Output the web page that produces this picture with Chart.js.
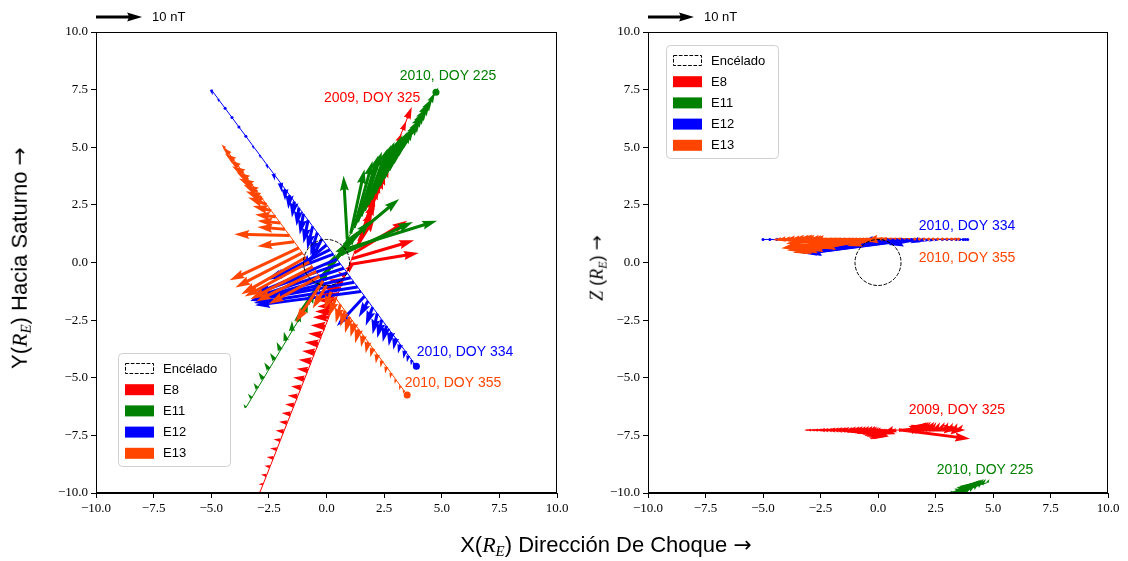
<!DOCTYPE html>
<html lang="es">
<head>
<meta charset="UTF-8">
<title>Campo magnético en los sobrevuelos de Encélado</title>
<script src="https://cdn.jsdelivr.net/npm/chart.js"></script>
<style>
  body { margin: 0; background: #fff; }
  #wrap { position: relative; width: 1128px; height: 561px; overflow: hidden; font-family: "Liberation Sans", sans-serif; color: #000; }
  canvas { position: absolute; top: 0; }
  #xy { left: 0; }
  #xz { left: 564px; }
  .lbl { position: absolute; white-space: nowrap; }
  .m { font-family: "Liberation Serif", serif; font-style: italic; }
  .m sub { font-size: 0.68em; vertical-align: -0.3em; }
  .arr { font-family: "DejaVu Sans", sans-serif; }
</style>
</head>
<body>
<div id="wrap">
  <canvas id="xy" width="580" height="561"></canvas>
  <canvas id="xz" width="564" height="561"></canvas>
  <div class="lbl" id="xlab" style="left:606px; top:546px; font-size:22px; transform:translate(-50%,-50%);">X(<span class="m">R<sub>E</sub></span>) Dirección De Choque <span class="arr">&rarr;</span></div>
  <div class="lbl" id="ylab" style="left:21px; top:258px; font-size:22px; transform:translate(-50%,-50%) rotate(-90deg);">Y(<span class="m">R<sub>E</sub></span>) Hacia Saturno <span class="arr">&rarr;</span></div>
  <div class="lbl" id="zlab" style="left:598px; top:268px; font-size:18px; transform:translate(-50%,-50%) rotate(-90deg);"><span class="m">Z</span> (<span class="m">R<sub>E</sub></span>) <span class="arr">&rarr;</span></div>
</div>

<script>
// R_E per nT: a 10 nT vector is 2 R_E long
const QUIVER_SCALE = 0.2;
const KEY_NT = 10;

// E8 - 2009, DOY 325
const e8X = [-3.05, -2.9, -2.75, -2.6, -2.45, -2.3, -2.15, -2.0, -1.85, -1.7, -1.55, -1.4, -1.25, -1.1, -0.95, -0.8, -0.65, -0.5, -0.35, -0.2, -0.05, 0.1, 0.2, 0.3, 0.4, 0.5, 0.6, 0.7, 0.8, 0.9, 1.0, 1.1, 1.2, 1.3, 1.4, 1.5, 1.6, 1.7, 1.85, 2.0, 2.15, 2.3, 2.5, 2.7, 2.9, 3.1, 3.3, 3.5];
const e8Y = [-10.38, -10.00, -9.62, -9.24, -8.86, -8.48, -8.10, -7.71, -7.33, -6.95, -6.57, -6.19, -5.81, -5.43, -5.05, -4.67, -4.28, -3.90, -3.52, -3.14, -2.76, -2.38, -2.13, -1.87, -1.62, -1.36, -1.11, -0.85, -0.60, -0.35, -0.09, 0.16, 0.41, 0.67, 0.92, 1.18, 1.43, 1.68, 2.07, 2.45, 2.83, 3.21, 3.72, 4.22, 4.73, 5.24, 5.74, 6.25];
const e8Z = [-7.27, -7.27, -7.27, -7.27, -7.27, -7.27, -7.27, -7.27, -7.27, -7.27, -7.27, -7.27, -7.27, -7.27, -7.27, -7.27, -7.27, -7.27, -7.27, -7.27, -7.27, -7.27, -7.27, -7.27, -7.27, -7.27, -7.27, -7.27, -7.27, -7.27, -7.27, -7.27, -7.27, -7.27, -7.27, -7.27, -7.27, -7.27, -7.27, -7.27, -7.27, -7.27, -7.27, -7.27, -7.27, -7.27, -7.27, -7.27];
const e8Bx = [-0.8, -1.0, -1.0, -1.2, -1.2, -1.5, -1.5, -1.5, -1.8, -1.8, -2.0, -2.0, -2.2, -2.2, -2.5, -2.5, -2.8, -2.8, -3.0, -3.0, -3.2, -3.5, -3.5, -3.5, -3.8, -4.0, -4.0, -3.0, -1.5, 1.5, 15.0, 13.5, 11.5, 4.0, 3.0, 3.0, 2.5, 2.0, 1.8, 1.5, 1.5, 1.2, 1.0, 1.0, 0.8, 0.8, 0.8, 1.0];
const e8By = [0.0, 0.0, 0.0, 0.2, 0.2, 0.2, 0.2, 0.2, 0.2, 0.2, 0.2, 0.2, 0.2, 0.3, 0.3, 0.3, 0.3, 0.3, 0.3, 0.3, 0.2, 0.0, 0.0, -0.2, -0.2, -0.3, 0.0, 0.5, 1.0, 1.5, 2.5, 4.0, 7.0, 6.5, 7.0, 7.5, 7.5, 7.0, 6.5, 6.0, 5.0, 4.0, 3.0, 2.5, 2.0, 1.8, 2.0, 2.5];
const e8Bz = [0.0, 0.0, 0.0, 0.0, 0.0, 0.0, 0.0, 0.0, 0.0, 0.0, 0.0, 0.0, 0.0, -0.3, -0.3, -0.3, -0.3, -0.6, -0.8, -0.8, -1.0, -1.3, -1.5, -1.7, -2.0, -2.0, -2.0, -1.0, -0.5, 0.0, -1.9, 0.0, 0.3, 1.0, 1.2, 1.5, 1.6, 1.7, 1.8, 1.8, 1.8, 1.7, 1.7, 1.7, 1.7, 1.6, 1.5, 1.2];

// E11 - 2010, DOY 225
const e11X = [-3.5, -3.25, -3.0, -2.75, -2.5, -2.25, -2.0, -1.75, -1.5, -1.25, -1.0, -0.8, -0.6, -0.4, -0.2, 0.0, 0.15, 0.3, 0.45, 0.6, 0.75, 0.9, 1.05, 1.2, 1.35, 1.5, 1.65, 1.8, 1.95, 2.1, 2.3, 2.5, 2.7, 2.9, 3.1, 3.3, 3.5, 3.7, 3.9, 4.1, 4.3, 4.5, 4.75];
const e11Y = [-6.30, -5.89, -5.47, -5.06, -4.64, -4.23, -3.81, -3.40, -2.98, -2.57, -2.15, -1.82, -1.49, -1.16, -0.83, -0.49, -0.24, 0.01, 0.26, 0.51, 0.76, 1.00, 1.25, 1.50, 1.75, 2.00, 2.25, 2.50, 2.74, 2.99, 3.32, 3.66, 3.99, 4.32, 4.65, 4.98, 5.31, 5.64, 5.98, 6.31, 6.64, 6.97, 7.39];
const e11Z = [-12.03, -11.95, -11.88, -11.80, -11.73, -11.65, -11.58, -11.50, -11.43, -11.35, -11.28, -11.22, -11.16, -11.10, -11.04, -10.98, -10.93, -10.89, -10.84, -10.80, -10.75, -10.71, -10.66, -10.62, -10.57, -10.53, -10.48, -10.44, -10.39, -10.35, -10.29, -10.23, -10.17, -10.11, -10.05, -9.99, -9.93, -9.87, -9.81, -9.75, -9.69, -9.63, -9.55];
const e11Bx = [-0.5, -0.8, -0.8, -1.0, -1.0, -1.0, -0.8, -0.5, 0.0, 0.5, 1.0, 1.5, 2.0, 2.5, 3.0, 4.5, 6.0, 8.0, 16.5, 21.0, 12.0, -0.8, 3.0, 4.0, 4.5, 4.5, 5.0, 5.0, 5.0, 5.0, 5.0, 5.0, 5.0, 4.5, 4.5, 4.0, 3.5, 3.0, 2.5, 2.0, 1.5, 1.0, 0.5];
const e11By = [0.8, 1.0, 1.2, 1.5, 1.5, 1.5, 1.8, 2.0, 2.2, 2.5, 3.0, 3.5, 4.5, 5.0, 6.0, 7.0, 8.0, 9.0, 7.5, 6.5, 10.0, 13.8, 14.0, 14.5, 14.5, 14.0, 13.5, 13.0, 12.5, 11.5, 11.0, 10.0, 9.0, 8.0, 7.5, 6.5, 6.0, 5.0, 4.0, 3.5, 2.5, 2.0, 1.0];
const e11Bz = [0.3, 0.3, 0.3, 0.3, 0.3, 0.3, 0.3, 0.3, 0.3, 0.3, 0.3, 0.3, 0.3, 0.3, 0.3, 0.3, 0.3, 0.3, 0.3, 0.3, 0.3, 0.3, 0.3, 0.3, 0.3, 0.3, 0.3, 0.3, 0.3, 0.3, 0.3, 0.3, 0.3, 0.3, 1.0, 1.5, 1.8, 1.8, 1.8, 1.7, 1.5, 1.2, 0.8];

// E12 - 2010, DOY 334
const e12X = [-5.0, -4.7, -4.4, -4.1, -3.8, -3.5, -3.2, -2.9, -2.6, -2.3, -2.0, -1.8, -1.6, -1.4, -1.2, -1.0, -0.8, -0.6, -0.4, -0.2, 0.0, 0.15, 0.3, 0.45, 0.6, 0.75, 0.9, 1.05, 1.2, 1.35, 1.5, 1.65, 1.8, 2.0, 2.2, 2.4, 2.6, 2.8, 3.0, 3.2, 3.4, 3.55, 3.7, 3.8, 3.9];
const e12Y = [7.50, 7.10, 6.69, 6.29, 5.88, 5.48, 5.07, 4.67, 4.26, 3.86, 3.46, 3.19, 2.92, 2.65, 2.38, 2.11, 1.84, 1.57, 1.30, 1.03, 0.76, 0.56, 0.36, 0.15, -0.05, -0.25, -0.45, -0.66, -0.86, -1.06, -1.26, -1.46, -1.67, -1.94, -2.21, -2.48, -2.75, -3.02, -3.28, -3.55, -3.82, -4.03, -4.23, -4.36, -4.50];
const e12Z = [1.0, 1.0, 1.0, 1.0, 1.0, 1.0, 1.0, 1.0, 1.0, 1.0, 1.0, 1.0, 1.0, 1.0, 1.0, 1.0, 1.0, 1.0, 1.0, 1.0, 1.0, 1.0, 1.0, 1.0, 1.0, 1.0, 1.0, 1.0, 1.0, 1.0, 1.0, 1.0, 1.0, 1.0, 1.0, 1.0, 1.0, 1.0, 1.0, 1.0, 1.0, 1.0, 1.0, 1.0, 1.0];
const e12Bx = [0.3, 0.2, 0.2, 0.2, 0.2, 0.2, 0.2, 0.2, 0.3, 0.3, 0.3, 0.0, -0.3, -0.5, -0.5, -0.8, -1.0, -1.2, -1.5, -2.5, -6.0, -13.0, -14.5, -17.5, -18.5, -20.0, -21.0, -21.5, -22.5, -22.5, -23.0, -6.0, -2.0, -1.5, -1.0, -1.0, -0.8, -0.5, -0.5, -0.5, -0.3, -0.3, -0.2, -0.2, -0.1];
const e12By = [-1.2, -0.8, -0.6, -0.5, -0.6, -0.6, -0.8, -0.8, -1.0, -1.5, -2.0, -2.5, -3.0, -3.5, -4.0, -4.5, -5.0, -5.0, -5.0, -5.0, -5.0, -6.5, -5.5, -7.5, -6.5, -6.5, -6.0, -5.0, -4.0, -3.5, -3.0, -6.5, -3.5, -4.0, -4.5, -4.0, -3.5, -3.0, -2.5, -2.0, -1.8, -1.5, -1.2, -1.0, -0.8];
const e12Bz = [0.0, 0.0, 0.0, 0.0, 0.0, 0.0, 0.0, 0.0, 0.0, 0.0, 0.0, -0.3, -0.3, -0.4, -0.4, -0.5, -0.5, -0.5, -0.5, -0.5, -1.5, -1.5, -1.5, -2.0, -2.0, -2.5, -2.5, -2.8, -3.0, -3.0, -3.0, -1.2, -0.8, -0.6, -0.5, -0.5, -0.4, -0.4, -0.3, -0.3, -0.2, -0.2, -0.2, -0.1, -0.1];

// E13 - 2010, DOY 355
const e13X = [-4.4, -4.2, -4.0, -3.8, -3.6, -3.4, -3.2, -3.0, -2.8, -2.6, -2.4, -2.2, -2.0, -1.8, -1.6, -1.4, -1.2, -1.05, -0.9, -0.75, -0.6, -0.45, -0.3, -0.15, 0.0, 0.2, 0.4, 0.6, 0.8, 1.0, 1.2, 1.4, 1.6, 1.8, 2.0, 2.2, 2.4, 2.6, 2.8, 3.0, 3.2, 3.35, 3.5];
const e13Y = [4.96, 4.69, 4.42, 4.15, 3.88, 3.61, 3.34, 3.07, 2.79, 2.52, 2.25, 1.98, 1.71, 1.44, 1.17, 0.90, 0.63, 0.42, 0.22, 0.02, -0.19, -0.39, -0.60, -0.80, -1.00, -1.27, -1.54, -1.82, -2.09, -2.36, -2.63, -2.90, -3.17, -3.44, -3.71, -3.98, -4.25, -4.52, -4.79, -5.07, -5.34, -5.54, -5.75];
const e13Z = [1.02, 1.02, 1.02, 1.02, 1.02, 1.02, 1.02, 1.02, 1.02, 1.02, 1.02, 1.02, 1.02, 1.02, 1.02, 1.02, 1.02, 1.02, 1.02, 1.02, 1.02, 1.02, 1.02, 1.02, 1.02, 1.02, 1.02, 1.02, 1.02, 1.02, 1.02, 1.02, 1.02, 1.02, 1.02, 1.02, 1.02, 1.02, 1.02, 1.02, 1.02, 1.02, 1.02];
const e13Bx = [-0.8, -1.5, -2.0, -2.0, -2.5, -2.5, -3.0, -3.0, -3.5, -4.0, -4.0, -4.5, -5.0, -6.0, -12.0, -8.0, -15.0, -14.5, -14.0, -14.0, -13.5, -13.0, -11.0, -6.0, -3.0, -1.5, -1.5, -1.0, -1.0, -1.0, -0.8, -0.8, -0.5, -0.5, -0.5, -0.3, -0.3, -0.3, -0.2, -0.2, -0.2, -0.1, -0.1];
const e13By = [0.8, 1.5, 1.5, 1.5, 1.5, 1.5, 1.5, 1.5, 1.5, 1.5, 1.0, 0.5, 0.5, 0.5, 0.3, -1.0, -7.0, -7.5, -8.0, -7.5, -7.0, -6.5, -6.0, -9.0, -5.0, -4.0, -4.0, -4.0, -3.5, -3.5, -3.0, -3.0, -2.5, -2.5, -2.0, -2.0, -1.5, -1.5, -1.2, -1.0, -1.0, -0.8, -0.5];
const e13Bz = [-0.3, -0.3, -0.3, -0.3, -0.3, -0.3, -0.3, -0.3, -0.3, -0.3, -0.5, -0.5, -0.5, -0.5, -1.0, -1.0, -2.0, -2.5, -3.0, -3.0, -2.8, -2.5, -2.0, -1.5, -0.5, 0.2, 0.2, 0.2, 0.2, 0.2, 0.2, 0.2, 0.2, 0.2, 0.2, 0.2, 0.2, 0.2, 0.2, 0.2, 0.2, 0.2, 0.2];

const legendLabels = ['Encélado', 'E8', 'E11', 'E12', 'E13'];
const flybyNames = ['2009, DOY 325', '2010, DOY 225', '2010, DOY 334', '2010, DOY 355'];
const flybyColors = ['#ff0000', '#008000', '#0000ff', '#ff4500'];

// where each flyby name is written, [x, y] in R_E
const xyNamePos = [[1.98, 7.14], [5.27, 8.09], [6.01, -3.88], [5.49, -5.23]];
const xzNamePos = [[3.43, -6.40], [4.65, -9.00], [3.87, 1.58], [3.87, 0.20]];

const flybys = [
  { x: e8X, y: e8Y, z: e8Z, bx: e8Bx, by: e8By, bz: e8Bz, marker: false },
  { x: e11X, y: e11Y, z: e11Z, bx: e11Bx, by: e11By, bz: e11Bz, marker: true },
  { x: e12X, y: e12Y, z: e12Z, bx: e12Bx, by: e12By, bz: e12Bz, marker: true },
  { x: e13X, y: e13Y, z: e13Z, bx: e13Bx, by: e13By, bz: e13Bz, marker: true }
];
flybys.forEach((f, i) => { f.color = flybyColors[i]; f.name = flybyNames[i]; });

// matplotlib-like quiver arrow (shaft width w, head 3w wide, 5w long)
const SHAFT = 3;
function drawArrow(ctx, x0, y0, dx, dy) {
  const L = Math.hypot(dx, dy);
  if (L < 0.2) return;
  let w = SHAFT, hw = 3 * SHAFT, hl = 5 * SHAFT, hal = 4.5 * SHAFT;
  ctx.save();
  ctx.translate(x0, y0);
  if (L < w) {
    ctx.beginPath();
    ctx.arc(0, 0, w / 2, 0, Math.PI * 2);
    ctx.fill();
    ctx.restore();
    return;
  }
  ctx.rotate(Math.atan2(dy, dx));
  if (L < hl) {
    const s = L / hl;
    w *= s; hw *= s; hl *= s; hal *= s;
  }
  ctx.beginPath();
  ctx.moveTo(0, -w / 2);
  ctx.lineTo(L - hal, -w / 2);
  ctx.lineTo(L - hl, -hw / 2);
  ctx.lineTo(L, 0);
  ctx.lineTo(L - hl, hw / 2);
  ctx.lineTo(L - hal, w / 2);
  ctx.lineTo(0, w / 2);
  ctx.closePath();
  ctx.fill();
  ctx.restore();
}

const quiverPlugin = {
  id: 'quiver',
  afterDatasetsDraw(chart, args, opts) {
    const { ctx, chartArea: a } = chart;
    const sx = chart.scales.x, sy = chart.scales.y;
    const vk = opts.plane === 'xy' ? 'y' : 'z';
    const bk = opts.plane === 'xy' ? 'by' : 'bz';

    ctx.save();
    ctx.beginPath();
    ctx.rect(a.left, a.top, a.width, a.height);
    ctx.clip();

    flybys.forEach(f => {
      ctx.fillStyle = f.color;
      f.x.forEach((x, i) => {
        const v = f[vk][i];
        const px = sx.getPixelForValue(x), py = sy.getPixelForValue(v);
        const qx = sx.getPixelForValue(x + f.bx[i] * QUIVER_SCALE);
        const qy = sy.getPixelForValue(v + f[bk][i] * QUIVER_SCALE);
        drawArrow(ctx, px, py, qx - px, qy - py);
      });
    });

    // Enceladus, radius 1 R_E
    const cx = sx.getPixelForValue(0), cy = sy.getPixelForValue(0);
    const r = sx.getPixelForValue(1) - cx;
    ctx.strokeStyle = '#000';
    ctx.lineWidth = 1;
    ctx.setLineDash([3.7, 1.6]);
    ctx.beginPath();
    ctx.arc(cx, cy, r, 0, Math.PI * 2);
    ctx.stroke();
    ctx.setLineDash([]);

    // end markers
    if (opts.plane === 'xy') {
      flybys.forEach(f => {
        if (!f.marker) return;
        const n = f.x.length - 1;
        ctx.fillStyle = f.color;
        ctx.beginPath();
        ctx.arc(sx.getPixelForValue(f.x[n]), sy.getPixelForValue(f.y[n]), 3.5, 0, Math.PI * 2);
        ctx.fill();
      });
    }

    // flyby names
    ctx.font = '14px "Liberation Sans", sans-serif';
    ctx.textAlign = 'center';
    ctx.textBaseline = 'middle';
    opts.names.forEach((p, i) => {
      ctx.fillStyle = flybyColors[i];
      ctx.fillText(flybyNames[i], sx.getPixelForValue(p[0]), sy.getPixelForValue(p[1]));
    });
    ctx.restore();
  },
  afterDraw(chart, args, opts) {
    const { ctx, chartArea: a } = chart;
    const sx = chart.scales.x;

    // frame
    ctx.save();
    ctx.strokeStyle = '#000';
    ctx.lineWidth = 1;
    ctx.strokeRect(Math.round(a.left) + 0.5, Math.round(a.top) + 0.5, Math.round(a.width) - 1, Math.round(a.height) - 1);

    // quiver key
    const kx = sx.getPixelForValue(-10);
    const kl = sx.getPixelForValue(-10 + KEY_NT * QUIVER_SCALE) - kx;
    ctx.fillStyle = '#000';
    drawArrow(ctx, kx, a.top - 15, kl, 0);
    ctx.font = '13px "Liberation Sans", sans-serif';
    ctx.textAlign = 'left';
    ctx.textBaseline = 'middle';
    ctx.fillText(KEY_NT + ' nT', kx + kl + 10, a.top - 15);

    // legend
    const lg = opts.legend;
    const bx = a.left + lg.dx, by = a.top + lg.dy;
    ctx.fillStyle = 'rgba(255,255,255,0.85)';
    ctx.strokeStyle = '#d0d0d0';
    ctx.beginPath();
    ctx.roundRect(bx + 0.5, by + 0.5, 112, 113, 4);
    ctx.fill();
    ctx.stroke();
    ctx.font = '13px "Liberation Sans", sans-serif';
    legendLabels.forEach((t, i) => {
      const yy = by + 15 + i * 21.2;
      if (i === 0) {
        ctx.strokeStyle = '#000';
        ctx.setLineDash([3.7, 1.6]);
        ctx.strokeRect(bx + 7.5, yy - 4.5, 28, 10);
        ctx.setLineDash([]);
      } else {
        ctx.fillStyle = flybyColors[i - 1];
        ctx.fillRect(bx + 7, yy - 5, 29, 11);
      }
      ctx.fillStyle = '#000';
      ctx.fillText(t, bx + 45, yy + 1);
    });
    ctx.restore();
  }
};

function tickText(v) {
  return (v < 0 ? '\u2212' : '') + Math.abs(v).toFixed(1);
}

function axis(fitWidth, fitHeight) {
  return {
    type: 'linear',
    min: -10,
    max: 10,
    ticks: {
      stepSize: 2.5,
      color: '#000',
      padding: 3,
      font: { family: '"Liberation Serif", serif', size: 13 },
      callback: tickText
    },
    grid: { drawOnChartArea: false, drawTicks: true, tickLength: 5, color: '#000' },
    border: { display: true, color: '#000' },
    afterFit(s) {
      if (fitWidth) s.width = fitWidth;
      if (fitHeight) {
        s.height = fitHeight;
        // end labels may overhang the frame; keep the plot width fixed
        s.paddingLeft = 0;
        s.paddingRight = 0;
      }
    }
  };
}

function makeChart(id, plane, yAxisWidth, rightPad, names, legendPos) {
  const datasets = flybys.map(f => ({
    data: f.x.map((x, i) => ({ x: x, y: f[plane === 'xy' ? 'y' : 'z'][i] })),
    showLine: true,
    borderColor: f.color,
    borderWidth: 1,
    pointRadius: 0,
    fill: false
  }));
  return new Chart(document.getElementById(id), {
    type: 'scatter',
    data: { datasets: datasets },
    options: {
      responsive: false,
      animation: false,
      layout: { padding: { top: 32, right: rightPad, left: 0, bottom: 0 } },
      scales: {
        x: axis(null, 68),
        y: axis(yAxisWidth, null)
      },
      plugins: {
        legend: { display: false },
        tooltip: { enabled: false },
        quiver: { plane: plane, names: names, legend: legendPos }
      }
    },
    plugins: [quiverPlugin]
  });
}

makeChart('xy', 'xy', 96, 23, xyNamePos, { dx: 22, dy: 321 });
makeChart('xz', 'xz', 84, 20, xzNamePos, { dx: 18, dy: 13 });
</script>
</body>
</html>
